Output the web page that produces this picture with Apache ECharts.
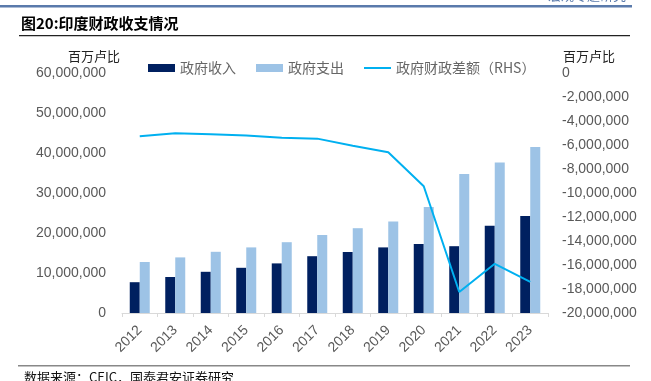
<!DOCTYPE html>
<html><head><meta charset="utf-8">
<script src="https://cdn.jsdelivr.net/npm/echarts@6/dist/echarts.min.js"></script>
<style>html,body{margin:0;padding:0;background:#fff}#c{width:651px;height:381px}</style>
</head><body><div id="c"></div>
<script>
const categories = ['2012','2013','2014','2015','2016','2017','2018','2019','2020','2021','2022','2023'];
const revenue = [7700000, 9000000, 10300000, 11300000, 12400000, 14200000, 15250000, 16400000, 17250000, 16700000, 21800000, 24250000];
const expenditure = [12750000, 13900000, 15300000, 16400000, 17700000, 19500000, 21200000, 22900000, 26500000, 34750000, 37600000, 41500000];
const deficit = [-5280000, -5030000, -5100000, -5200000, -5400000, -5470000, -6070000, -6600000, -9440000, -18250000, -15900000, -17400000];
const seriesNames = ['政府收入', '政府支出', '政府财政差额（RHS）'];

const fmt = v => String(v).replace(/\B(?=(\d{3})+(?!\d))/g, ',');
const chart = echarts.init(document.getElementById('c'), null, {renderer: 'canvas'});
const labelColor = '#595959';
chart.setOption({
  animation: false,
  grid: {left: 122, right: 103, top: 73, bottom: 68, containLabel: false},
  legend: {
    left: 143, top: 56, itemWidth: 27, itemHeight: 8, itemGap: 20,
    textStyle: {fontSize: 14, color: '#666', fontFamily: 'Noto Sans CJK SC'},
    data: [
      {name: seriesNames[0], icon: 'rect'},
      {name: seriesNames[1], icon: 'rect'},
      {name: seriesNames[2], icon: 'path://M0,0 L27,0 L27,2 L0,2 Z'}
    ]
  },
  xAxis: {
    type: 'category', data: categories, boundaryGap: true,
    axisLine: {lineStyle: {color: '#d9d9d9', width: 1}},
    axisTick: {show: true, length: 4, lineStyle: {color: '#d9d9d9'}},
    axisLabel: {rotate: 45, fontSize: 14, color: labelColor, fontFamily: 'Liberation Sans', margin: 15}
  },
  yAxis: [
    {type: 'value', min: 0, max: 60000000, interval: 10000000, splitLine: {show: false},
     axisLine: {show: false}, axisTick: {show: false},
     axisLabel: {fontSize: 14, color: labelColor, fontFamily: 'Liberation Sans', margin: 16, formatter: fmt}},
    {type: 'value', min: -20000000, max: 0, interval: 2000000, splitLine: {show: false},
     axisLine: {show: false}, axisTick: {show: false},
     axisLabel: {fontSize: 14, color: labelColor, fontFamily: 'Liberation Sans', margin: 14, formatter: fmt}}
  ],
  series: [
    {name: seriesNames[0], type: 'bar', data: revenue, barWidth: 10, barGap: '0%', itemStyle: {color: '#002060'}},
    {name: seriesNames[1], type: 'bar', data: expenditure, barWidth: 10, barGap: '0%', itemStyle: {color: '#9DC3E6'}},
    {name: seriesNames[2], type: 'line', yAxisIndex: 1, data: deficit, symbol: 'none', smooth: false,
     lineStyle: {color: '#00B0F0', width: 2}, itemStyle: {color: '#00B0F0'}}
  ],
  graphic: [
    {type: 'rect', shape: {x: 0, y: 5, width: 632, height: 2.5}, style: {fill: '#5a7aab'}},
    {type: 'text', left: 548, top: -11, style: {text: '宏观专题研究', fontSize: 13, fill: '#5a7aab', fontFamily: 'Noto Sans CJK SC'}},
    {type: 'text', left: 21, top: 16, style: {text: '图20:印度财政收支情况', fontSize: 15, fontWeight: 'bold', fill: '#000', fontFamily: 'Noto Sans CJK SC'}},
    {type: 'rect', shape: {x: 19, y: 35, width: 611, height: 1.2}, style: {fill: '#222'}},
    {type: 'text', left: 68, top: 50, style: {text: '百万卢比', fontSize: 13, fill: '#222', fontFamily: 'Noto Sans CJK SC'}},
    {type: 'text', left: 563, top: 50, style: {text: '百万卢比', fontSize: 13, fill: '#222', fontFamily: 'Noto Sans CJK SC'}},
    {type: 'rect', shape: {x: 18, y: 365, width: 612, height: 1.5}, style: {fill: '#888'}},
    {type: 'text', left: 24, top: 371, style: {text: '数据来源：CEIC，国泰君安证券研究', fontSize: 13, fill: '#111', fontFamily: 'Noto Sans CJK SC'}}
  ]
});
</script></body></html>
